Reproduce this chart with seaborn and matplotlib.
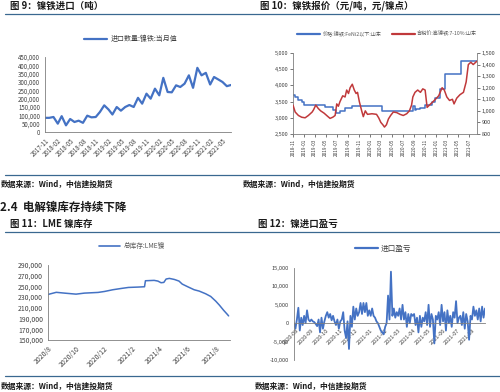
import pandas as pd
import matplotlib
matplotlib.use('Agg')
import matplotlib.pyplot as plt
import matplotlib.dates as mdates
from matplotlib.ticker import FuncFormatter, MultipleLocator
from matplotlib.lines import Line2D
import seaborn as sns

sns.set_theme(style='white')
plt.rcParams['font.family'] = ['Noto Sans CJK SC', 'DejaVu Sans']
plt.rcParams['axes.unicode_minus'] = False

BLUE = '#4472C4'
RED = '#C0393B'
RULE = '#3A6890'
TICK = '#404040'

# 图9 镍铁进口 (monthly)
imp_start = '2017-11-01'
imp_vals = [85000, 85000, 90000, 50000, 95000, 40000, 78000, 60000, 68000, 55000,
            98000, 88000, 90000, 120000, 160000, 135000, 105000, 150000, 128000, 150000,
            162000, 150000, 205000, 170000, 230000, 200000, 260000, 220000, 325000, 240000,
            238000, 280000, 270000, 290000, 340000, 265000, 385000, 340000, 355000, 285000,
            330000, 315000, 300000, 275000, 282000]

# 图10 镍铁报价
fe_dates = ['2018-11-01', '2018-11-13', '2018-12-01', '2018-12-19', '2019-01-01', '2019-04-28',
            '2019-06-10', '2019-06-28', '2019-07-20', '2019-08-15', '2019-09-22', '2019-10-20',
            '2020-03-07', '2020-08-28', '2020-09-04', '2020-09-10', '2020-10-05', '2020-11-03',
            '2020-12-10', '2020-12-28', '2021-01-25', '2021-02-18', '2021-05-16', '2021-08-15']
fe_vals = [3700, 3650, 3550, 3480, 3400, 3330, 3250, 3150, 3220, 3300, 3370, 3350,
           3200, 3350, 3250, 3280, 3300, 3400, 3500, 3600, 3900, 4350, 4750, 4750]

hn_dates = ['2018-11-01', '2018-11-13', '2018-12-01', '2018-12-19', '2019-01-07', '2019-01-25',
            '2019-02-15', '2019-02-23', '2019-03-07', '2019-03-21', '2019-04-03', '2019-04-22',
            '2019-05-10', '2019-05-25', '2019-06-09', '2019-06-22', '2019-07-01', '2019-07-10',
            '2019-07-19', '2019-08-03', '2019-08-16', '2019-08-25', '2019-09-04', '2019-09-13',
            '2019-09-25', '2019-10-06', '2019-10-16', '2019-10-24', '2019-11-03', '2019-11-16',
            '2019-11-25', '2019-12-06', '2019-12-18', '2020-01-12', '2020-02-06', '2020-02-18',
            '2020-03-01', '2020-03-12', '2020-03-21', '2020-04-01', '2020-04-12', '2020-04-24',
            '2020-05-09', '2020-05-28', '2020-06-15', '2020-07-03', '2020-07-22', '2020-08-06',
            '2020-08-18', '2020-08-25', '2020-09-06', '2020-09-21', '2020-10-06', '2020-10-19',
            '2020-11-01', '2020-11-12', '2020-11-25', '2020-12-15', '2020-12-28', '2021-01-15',
            '2021-02-03', '2021-02-15', '2021-03-01', '2021-03-16', '2021-04-01', '2021-04-10',
            '2021-04-25', '2021-05-13', '2021-06-01', '2021-06-16', '2021-06-28', '2021-07-12',
            '2021-07-25', '2021-08-15']
hn_vals = [1050, 990, 960, 945, 940, 960, 990, 1010, 1050, 1020, 1000, 980,
           955, 935, 945, 960, 1060, 1040, 1080, 1130, 1120, 1180, 1150, 1200,
           1230, 1180, 1150, 1160, 1080, 1000, 950, 1000, 970, 975, 970, 940,
           900, 880, 860, 880, 930, 960, 990, 985, 970, 960, 975, 1000,
           1050, 1120, 1160, 1180, 1160, 1190, 1180, 1030, 1050, 1080, 1100, 1130,
           1200, 1180, 1120, 1090, 1100, 1060, 1110, 1140, 1160, 1250, 1400, 1420,
           1400, 1430]

# 图11 LME镍库存
lme_dates = ['2020-08-01', '2020-08-19', '2020-09-06', '2020-10-01', '2020-10-19', '2020-11-18',
             '2020-12-02', '2020-12-20', '2021-01-08', '2021-01-23', '2021-02-13', '2021-02-27',
             '2021-03-01', '2021-03-20', '2021-03-28', '2021-04-04', '2021-04-10', '2021-04-15',
             '2021-04-22', '2021-05-03', '2021-05-13', '2021-05-20', '2021-06-01', '2021-06-15',
             '2021-06-26', '2021-07-10', '2021-07-21', '2021-08-01', '2021-08-09', '2021-08-18',
             '2021-08-26', '2021-08-29']
lme_vals = [235000, 239000, 237500, 235600, 237500, 238800, 240600, 243800, 246300, 248100,
            248800, 249400, 260600, 261300, 260000, 256900, 257500, 263800, 265000, 263000,
            260000, 254400, 249400, 243800, 241300, 236300, 231300, 222500, 215000, 205600,
            198000, 195000]
lme_yticks = [150000, 170000, 190000, 210000, 230000, 250000, 270000, 290000]

# 图12 镍进口盈亏 (every 3 days from 2020-07-27)
pl_start = '2020-07-27'
pl_vals = [0, -1500, 1000, 4200, -2000, 1500, -500, 2000, 0, 3500,
           1000, 500, 1000, 500, 300, -200, -800, 1000, -2500, 1500,
           -1500, 500, 2000, 3000, 1500, 2500, 800, 2000, 500, -500,
           1000, -1500, 500, 1000, 3000, -2000, -4000, 500, -7000, 2000,
           -1000, 4500, 1000, 4000, 2000, 3000, 5500, 2500, 5500, 3000,
           5500, 2000, 3500, 2000, 4000, 2000, 1500, 500, 0, -1000,
           -2000, -2500, -3000, -1000, 0, 7500, 1000, 14000, 2000, 4000,
           1500, 3000, 2000, 4000, 1000, 5000, 1000, 3000, -1000, 2500,
           0, 2500, 2000, 2500, -500, 1500, -2500, 2000, -1000, 1500,
           500, 3000, -500, 5000, -1000, 2500, 1000, -5500, 2000, 1000,
           3000, -500, 5000, 500, 3000, -2000, 3500, 0, 2000, -1000,
           3000, 1500, 6000, 0, 1500, 2000, -500, 3000, -1500, 2500,
           500, -4500, 2000, 1000, 4500, 2000, 3500, 1000, 4000, 500,
           4500, 1500, 4000]

W, H = 500, 392
fig = plt.figure(figsize=(5.0, 3.92), dpi=100)


def fx(px):
    return px / W


def fy(py):
    return 1 - py / H


def add_axes(l, t, r, b):
    return fig.add_axes([fx(l), fy(b), fx(r - l), (b - t) / H])


comma = FuncFormatter(lambda v, p: f'{v:,.0f}')


def style(ax, xsize, ysize):
    ax.tick_params(axis='x', labelsize=xsize)
    ax.tick_params(axis='y', labelsize=ysize)
    ax.tick_params(axis='both', colors=TICK, length=2, width=0.5, pad=1.5)
    for s in ax.spines.values():
        s.set_color('#7F7F7F')
        s.set_linewidth(0.6)
    ax.set_xlabel('')
    ax.set_ylabel('')


# ---- 图9
ax1 = add_axes(45, 57, 231, 132)
imp = pd.DataFrame({'date': pd.date_range(imp_start, periods=len(imp_vals), freq='MS'),
                    'val': imp_vals})
sns.lineplot(data=imp, x='date', y='val', ax=ax1, color=BLUE, lw=1.6)
ax1.set_ylim(0, 450000)
ax1.yaxis.set_major_locator(MultipleLocator(50000))
ax1.yaxis.set_major_formatter(comma)
ax1.set_xlim(imp['date'].iloc[0], imp['date'].iloc[-1])
ax1.xaxis.set_major_locator(mdates.MonthLocator(bymonth=[2, 5, 8, 11]))
ax1.xaxis.set_major_formatter(mdates.DateFormatter('%Y-%m'))
sns.despine(ax=ax1)
style(ax1, 4.4, 4.4)
plt.setp(ax1.get_xticklabels(), rotation=45, ha='right', rotation_mode='anchor')
ax1.legend([Line2D([], [], color=BLUE, lw=1.6)], ['进口数量:镍铁:当月值'], loc='center',
           bbox_to_anchor=(fx(131), fy(39)), bbox_transform=fig.transFigure, frameon=False,
           fontsize=5.0, handlelength=3.2, handletextpad=0.6, labelcolor='#404040')

# ---- 图10
ax2 = add_axes(293, 53, 477, 134)
fe = pd.DataFrame({'date': pd.to_datetime(fe_dates), 'val': fe_vals})
hn = pd.DataFrame({'date': pd.to_datetime(hn_dates), 'val': hn_vals})
sns.lineplot(data=fe, x='date', y='val', ax=ax2, color=BLUE, lw=1.1, drawstyle='steps-post')
ax2b = ax2.twinx()
sns.lineplot(data=hn, x='date', y='val', ax=ax2b, color=RED, lw=1.1)
ax2.set_ylim(2500, 5000)
ax2.yaxis.set_major_locator(MultipleLocator(500))
ax2.yaxis.set_major_formatter(comma)
ax2b.set_ylim(800, 1500)
ax2b.yaxis.set_major_locator(MultipleLocator(100))
ax2b.yaxis.set_major_formatter(comma)
ax2.set_xlim(pd.Timestamp('2018-11-01'), pd.Timestamp('2021-08-15'))
ax2.xaxis.set_major_locator(mdates.MonthLocator(bymonth=[1, 3, 5, 7, 9, 11]))
ax2.xaxis.set_major_formatter(mdates.DateFormatter('%Y-%m'))
for a in (ax2, ax2b):
    a.spines['top'].set_visible(False)
    style(a, 3.4, 4.0)
ax2.spines['right'].set_visible(False)
ax2b.spines['left'].set_visible(False)
ax2b.spines['bottom'].set_visible(False)
ax2.tick_params(axis='y', left=True)
ax2.tick_params(axis='x', bottom=True)
ax2b.tick_params(axis='y', right=True)
plt.setp(ax2.get_xticklabels(), rotation=90)
ax2.legend([Line2D([], [], color=BLUE, lw=1.6), Line2D([], [], color=RED, lw=1.6)],
           ['价格:镍铁:FeNi2以下:山东', '含税价:高镍铁:7-10%:山东'], loc='center', ncol=2,
           bbox_to_anchor=(fx(387), fy(34)), bbox_transform=fig.transFigure, frameon=False,
           fontsize=3.7, handlelength=4.5, handletextpad=0.5, columnspacing=2.0,
           labelcolor='#595959')

# ---- 图11
ax3 = add_axes(48, 265, 230, 340)
lme = pd.DataFrame({'date': pd.to_datetime(lme_dates), 'val': lme_vals})
sns.lineplot(data=lme, x='date', y='val', ax=ax3, color=BLUE, lw=1.1)
ax3.set_ylim(lme_yticks[0], lme_yticks[-1])
ax3.set_yticks(lme_yticks)
ax3.yaxis.set_major_formatter(comma)
ax3.set_xlim(pd.Timestamp('2020-08-01'), pd.Timestamp('2021-09-01'))
ax3.xaxis.set_major_locator(mdates.MonthLocator(bymonth=[2, 4, 6, 8, 10, 12]))
ax3.xaxis.set_major_formatter(FuncFormatter(
    lambda v, p: f'{mdates.num2date(v).year}/{mdates.num2date(v).month}'))
sns.despine(ax=ax3)
style(ax3, 4.9, 4.9)
plt.setp(ax3.get_xticklabels(), rotation=45, ha='right', rotation_mode='anchor')
ax3.legend([Line2D([], [], color=BLUE, lw=1.2)], ['总库存:LME镍'], loc='center',
           bbox_to_anchor=(fx(132), fy(246)), bbox_transform=fig.transFigure, frameon=False,
           fontsize=4.8, handlelength=3.2, handletextpad=0.5, labelcolor='#595959')

# ---- 图12
ax4 = add_axes(294, 268, 485, 360)
pl = pd.DataFrame({'date': pd.date_range(pl_start, periods=len(pl_vals), freq='3D'),
                   'val': pl_vals})
sns.lineplot(data=pl, x='date', y='val', ax=ax4, color=BLUE, lw=1.3)
ax4.set_ylim(-10000, 15000)
ax4.yaxis.set_major_locator(MultipleLocator(5000))
ax4.yaxis.set_major_formatter(comma)
ax4.set_xlim(pl['date'].iloc[0], pl['date'].iloc[-1])
ax4.xaxis.set_major_locator(mdates.MonthLocator())
ax4.xaxis.set_major_formatter(mdates.DateFormatter('%Y-%m'))
sns.despine(ax=ax4)
ax4.spines['bottom'].set_position(('data', 0))
style(ax4, 4.0, 4.1)
plt.setp(ax4.get_xticklabels(), rotation=45, ha='right', rotation_mode='anchor')
ax4.legend([Line2D([], [], color=BLUE, lw=1.6)], ['进口盈亏'], loc='center',
           bbox_to_anchor=(fx(383), fy(249)), bbox_transform=fig.transFigure, frameon=False,
           fontsize=5.5, handlelength=3.0, handletextpad=0.4, labelcolor='#404040')

# ---- page furniture: titles, rules, sources
for y in (14, 175, 232, 376):
    fig.add_artist(Line2D([fx(5), fx(500)], [fy(y), fy(y)], transform=fig.transFigure,
                          color=RULE, lw=0.9))

title_kw = dict(fontsize=6.8, fontweight='bold', va='center', ha='left', color='#1A1A1A')
fig.text(fx(10), fy(6), '图 9：镍铁进口（吨）', **title_kw)
fig.text(fx(260), fy(6), '图 10：镍铁报价（元/吨，元/镍点）', **title_kw)
fig.text(fx(10), fy(224), '图 11：LME 镍库存', **title_kw)
fig.text(fx(258), fy(224), '图 12：镍进口盈亏', **title_kw)
fig.text(fx(0), fy(207), '2.4  电解镍库存持续下降', fontsize=8.3, fontweight='bold',
         va='center', ha='left', color='#1A1A1A')

src_kw = dict(fontsize=5.6, fontweight='bold', style='italic', va='center', ha='left',
              color='#1A1A1A')
src = '数据来源：Wind，中信建投期货'
fig.text(fx(1), fy(184), src, **src_kw)
fig.text(fx(243), fy(184), src, **src_kw)
fig.text(fx(1), fy(386), src, **src_kw)
fig.text(fx(255), fy(386), src, **src_kw)

fig.savefig('out.png', dpi=100)
